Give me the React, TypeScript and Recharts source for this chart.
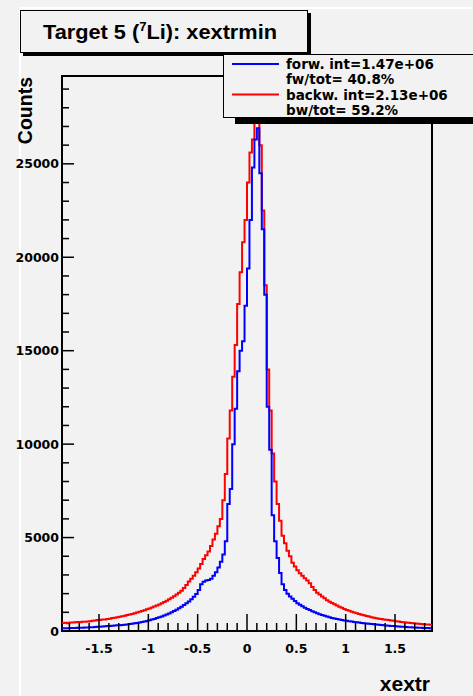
import { ComposedChart, Line, XAxis, YAxis, ReferenceArea } from 'recharts';

// histogram binning (150 bins over the frame range)
const X_MIN = -1.875;
const X_MAX = 1.875;
const BIN_WIDTH = 0.025;
const Y_MAX = 29700;

// forward hemisphere (blue)
const forwCounts = [
  145, 152, 148, 156, 160, 163, 172, 175, 178, 186,
  190, 196, 202, 208, 221, 228, 242, 248, 262, 268,
  282, 290, 302, 312, 320, 337, 348, 372, 388, 412,
  430, 458, 478, 512, 540, 572, 612, 648, 692, 735,
  780, 832, 878, 942, 1000, 1068, 1142, 1218, 1302, 1388,
  1480, 1582, 1700, 1828, 1980, 2200, 2500, 2640, 2700, 2730,
  2800, 2950, 3150, 3400, 3700, 4100, 4800, 6800, 7600, 10000,
  11900, 13900, 15000, 15500, 17400, 19400, 22000, 24800, 26300, 26900,
  24500, 21500, 18000, 12000, 9700, 6200, 4800, 3900, 3100, 2500,
  2200, 2000, 1850, 1720, 1600, 1480, 1400, 1320, 1250, 1180,
  1120, 1062, 1000, 948, 902, 858, 822, 778, 742, 700,
  672, 638, 612, 588, 566, 544, 526, 503, 486, 464,
  452, 433, 421, 404, 392, 373, 362, 344, 332, 318,
  306, 294, 287, 270, 262, 248, 241, 229, 222, 213,
  206, 198, 191, 184, 180, 170, 166, 158, 156, 150,
];

// backward hemisphere (red)
const backwCounts = [
  430, 442, 418, 452, 458, 472, 478, 468, 492, 500,
  512, 528, 542, 558, 582, 588, 612, 618, 642, 658,
  692, 708, 742, 758, 792, 818, 852, 878, 912, 948,
  992, 1028, 1072, 1108, 1162, 1208, 1262, 1308, 1362, 1418,
  1480, 1552, 1618, 1702, 1778, 1862, 1948, 2052, 2148, 2302,
  2460, 2650, 2800, 2950, 3150, 3350, 3580, 3850, 4050, 4250,
  4550, 4900, 5200, 5600, 6000, 7000, 8400, 10300, 11800, 13600,
  15300, 17500, 19200, 20800, 22000, 24000, 25600, 26300, 28200, 27500,
  26000, 22500, 18500, 14000, 11800, 9500, 8000, 6800, 5900, 5100,
  4700, 4300, 4000, 3650, 3450, 3250, 3090, 2950, 2820, 2700,
  2550, 2350, 2200, 2050, 1950, 1850, 1750, 1650, 1570, 1500,
  1432, 1358, 1302, 1238, 1182, 1128, 1082, 1028, 992, 948,
  912, 868, 842, 798, 772, 738, 712, 688, 662, 638,
  622, 598, 582, 558, 542, 518, 502, 488, 472, 458,
  442, 428, 412, 398, 392, 368, 362, 348, 342, 330,
];

const xTicks = [
  -1.8, -1.7, -1.6, -1.5, -1.4, -1.3, -1.2, -1.1, -1, -0.9, -0.8, -0.7, -0.6, -0.5, -0.4, -0.3, -0.2, -0.1,
  0, 0.1, 0.2, 0.3, 0.4, 0.5, 0.6, 0.7, 0.8, 0.9, 1, 1.1, 1.2, 1.3, 1.4, 1.5, 1.6, 1.7, 1.8,
];
const xMajorTicks = [-1.5, -1, -0.5, 0, 0.5, 1, 1.5];

const yTicks = [
  0, 1000, 2000, 3000, 4000, 5000, 6000, 7000, 8000, 9000, 10000, 11000, 12000, 13000, 14000,
  15000, 16000, 17000, 18000, 19000, 20000, 21000, 22000, 23000, 24000, 25000, 26000, 27000, 28000, 29000,
];
const yMajorTicks = [0, 5000, 10000, 15000, 20000, 25000];

const legendItems = [
  { color: '#0000ff', lines: ['forw. int=1.47e+06', 'fw/tot= 40.8%'] },
  { color: '#ff0000', lines: ['backw. int=2.13e+06', 'bw/tot= 59.2%'] },
];

const chartData = forwCounts.map((f, i) => ({
  x: X_MIN + i * BIN_WIDTH,
  forw: f,
  backw: backwCounts[i],
}));
chartData.push({
  x: X_MAX,
  forw: forwCounts[forwCounts.length - 1],
  backw: backwCounts[backwCounts.length - 1],
});

const tickFont = { fontFamily: 'DejaVu Sans', fontWeight: 700, fontSize: 12.5 };

const YTick = (props: any) => {
  const { x, y, payload } = props;
  const major = yMajorTicks.includes(payload.value);
  return (
    <g>
      <line x1={x} x2={x + (major ? 12 : 7)} y1={y} y2={y} stroke="#000" strokeWidth={1.5} />
      {major && (
        <text x={x - 3} y={y} dy={4.5} textAnchor="end" fill="#000" {...tickFont}>
          {payload.value}
        </text>
      )}
    </g>
  );
};

const XTick = (props: any) => {
  const { x, y, payload } = props;
  const major = xMajorTicks.includes(payload.value);
  return (
    <g>
      <line x1={x} x2={x} y1={y} y2={y - (major ? 17 : 8)} stroke="#000" strokeWidth={1.5} />
      {major && (
        <text x={x} y={y + 22} textAnchor="middle" fill="#000" {...tickFont}>
          {String(payload.value)}
        </text>
      )}
    </g>
  );
};

export default function App() {
  return (
    <div
      style={{
        position: 'absolute',
        left: 0,
        top: 0,
        width: 473,
        height: 696,
        background: '#f2f2f2',
        overflow: 'hidden',
      }}
    >
      <div style={{ position: 'absolute', left: 19, top: 7, width: 454, height: 2, background: '#fff' }} />
      <div style={{ position: 'absolute', left: 19, top: 7, width: 2, height: 689, background: '#fff' }} />
      <div style={{ position: 'absolute', left: 0, top: 0 }}>
        <ComposedChart
          width={473}
          height={696}
          data={chartData}
          margin={{ top: 76, right: 41, bottom: 0, left: 0 }}
        >
          <XAxis
            type="number"
            dataKey="x"
            domain={[X_MIN, X_MAX]}
            allowDataOverflow
            ticks={xTicks}
            interval={0}
            tickLine={false}
            axisLine={false}
            tickSize={0}
            tickMargin={0}
            height={65}
            tick={<XTick />}
          />
          <YAxis
            type="number"
            domain={[0, Y_MAX]}
            allowDataOverflow
            ticks={yTicks}
            interval={0}
            tickLine={false}
            axisLine={false}
            tickSize={0}
            tickMargin={0}
            width={62}
            tick={<YTick />}
          />
          <ReferenceArea
            x1={X_MIN}
            x2={X_MAX}
            y1={0}
            y2={Y_MAX}
            fill="none"
            stroke="#000"
            strokeWidth={2}
            ifOverflow="visible"
          />
          <Line
            type="stepAfter"
            dataKey="backw"
            stroke="#ff0000"
            strokeWidth={2}
            dot={false}
            isAnimationActive={false}
          />
          <Line
            type="stepAfter"
            dataKey="forw"
            stroke="#0000ff"
            strokeWidth={2}
            dot={false}
            isAnimationActive={false}
          />
        </ComposedChart>
      </div>
      <svg
        width={473}
        height={696}
        style={{ position: 'absolute', left: 0, top: 0, pointerEvents: 'none' }}
      >
        {/* title box */}
        <rect x={23} y={13} width={288} height={43} fill="#000" />
        <rect x={20.5} y={10.5} width={287} height={42} fill="#f2f2f2" stroke="#000" strokeWidth={1} />
        <text
          x={43}
          y={39}
          textLength={234}
          lengthAdjust="spacingAndGlyphs"
          fontFamily="Liberation Sans, Arial"
          fontWeight={700}
          fontSize={20}
          fill="#000"
        >
          Target 5 (
          <tspan fontSize={12} dy={-8}>7</tspan>
          <tspan dy={8}>Li): xextrmin</tspan>
        </text>
        {/* legend */}
        <rect x={235} y={60} width={300} height={64} fill="#000" />
        <rect x={223.5} y={54.5} width={300} height={63} fill="#f2f2f2" stroke="#000" strokeWidth={1} />
        {legendItems.map((item, k) => (
          <g key={k}>
            <line x1={232} x2={279} y1={64 + k * 30.5} y2={64 + k * 30.5} stroke={item.color} strokeWidth={2} />
            {item.lines.map((t, j) => (
              <text
                key={j}
                x={286}
                y={68.5 + k * 31 + j * 15.5}
                fontFamily="DejaVu Sans"
                fontWeight={700}
                fontSize={13.5}
                fill="#000"
              >
                {t}
              </text>
            ))}
          </g>
        ))}
        {/* axis titles */}
        <text
          transform="translate(32 77) rotate(-90)"
          textAnchor="end"
          fontFamily="Liberation Sans, Arial"
          fontWeight={700}
          fontSize={19.5}
          fill="#000"
        >
          Counts
        </text>
        <text
          x={430}
          y={691}
          textAnchor="end"
          fontFamily="Liberation Sans, Arial"
          fontWeight={700}
          fontSize={21}
          fill="#000"
        >
          xextr
        </text>
      </svg>
    </div>
  );
}
